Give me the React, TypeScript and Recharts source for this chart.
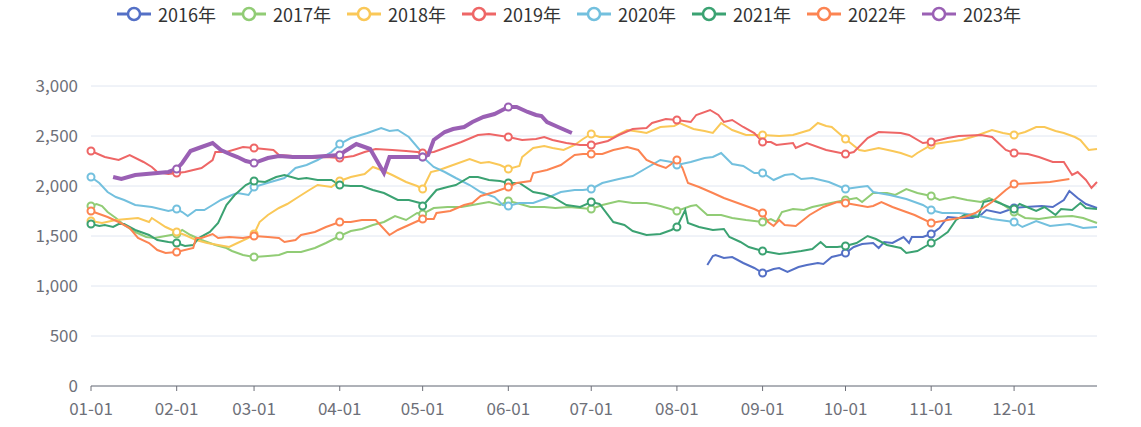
import React from 'react';
import { LineChart, Line, XAxis, YAxis, CartesianGrid } from 'recharts';

// series names and colours (legend order)
const years = ['2016年', '2017年', '2018年', '2019年', '2020年', '2021年', '2022年', '2023年'];
const colors = ['#5470c6', '#91cc75', '#fac858', '#ee6666', '#73c0de', '#3ba272', '#fc8452', '#9a60b4'];

// x axis: day of year, ticks on the first of each month
const monthDays = [0, 31, 59, 90, 120, 151, 181, 212, 243, 273, 304, 334];
const monthLabels = ['01-01', '02-01', '03-01', '04-01', '05-01', '06-01', '07-01', '08-01', '09-01', '10-01', '11-01', '12-01'];
const yTicks = [0, 500, 1000, 1500, 2000, 2500, 3000];

// [day, value] pairs
const s2016: [number, number][] = [
  [223, 1210], [225, 1300], [226, 1310], [229, 1280], [232, 1290], [236, 1230], [240, 1180], [243, 1130],
  [247, 1170], [249, 1180], [252, 1140], [256, 1190], [259, 1210], [263, 1230], [265, 1220], [268, 1290],
  [271, 1310], [273, 1330], [276, 1390], [279, 1420], [283, 1430], [285, 1380], [287, 1440], [290, 1430],
  [294, 1490], [296, 1430], [297, 1490], [301, 1490], [304, 1520], [307, 1580], [310, 1690], [314, 1680],
  [319, 1680], [322, 1710], [324, 1760], [329, 1730], [334, 1780], [338, 1790], [344, 1800], [348, 1790],
  [352, 1860], [354, 1950], [357, 1880], [360, 1820], [364, 1780],
];
const s2017: [number, number][] = [
  [0, 1800], [2, 1820], [4, 1800], [6, 1740], [9, 1680], [12, 1610], [16, 1540], [20, 1490], [23, 1480],
  [27, 1500], [31, 1520], [33, 1560], [36, 1510], [40, 1460], [45, 1410], [49, 1380], [51, 1350], [55, 1310],
  [59, 1290], [64, 1300], [68, 1310], [71, 1340], [76, 1340], [81, 1380], [85, 1430], [90, 1500], [94, 1550],
  [98, 1570], [102, 1610], [106, 1640], [110, 1700], [114, 1660], [118, 1730], [120, 1720], [124, 1780],
  [129, 1790], [134, 1790], [138, 1810], [144, 1840], [148, 1810], [151, 1850], [154, 1830], [159, 1790],
  [164, 1790], [168, 1780], [173, 1790], [177, 1780], [181, 1770], [185, 1810], [191, 1850], [196, 1830],
  [201, 1830], [206, 1800], [212, 1750], [217, 1800], [219, 1810], [223, 1710], [228, 1710], [232, 1680],
  [237, 1660], [243, 1640], [246, 1670], [248, 1640], [250, 1740], [254, 1770], [258, 1760], [261, 1790],
  [266, 1820], [273, 1860], [277, 1880], [279, 1840], [283, 1930], [288, 1930], [291, 1910], [295, 1970],
  [299, 1930], [304, 1900], [307, 1860], [312, 1890], [317, 1860], [322, 1840], [325, 1880], [329, 1830],
  [334, 1740], [338, 1680], [343, 1670], [348, 1690], [355, 1700], [359, 1680], [364, 1630],
];
const s2018: [number, number][] = [
  [0, 1650], [4, 1630], [9, 1660], [13, 1670], [17, 1680], [21, 1640], [22, 1680], [27, 1590], [31, 1540],
  [34, 1510], [38, 1460], [42, 1430], [46, 1410], [50, 1390], [53, 1430], [57, 1480], [59, 1520], [61, 1640],
  [64, 1710], [68, 1780], [71, 1820], [75, 1890], [79, 1960], [82, 2010], [87, 1990], [90, 2050], [94, 2090],
  [99, 2120], [102, 2190], [105, 2160], [109, 2110], [114, 2040], [118, 2000], [120, 1970], [123, 2140],
  [126, 2160], [130, 2200], [137, 2270], [141, 2230], [144, 2240], [148, 2210], [151, 2170], [155, 2200],
  [156, 2290], [160, 2380], [164, 2400], [167, 2380], [171, 2360], [175, 2410], [178, 2470], [181, 2520],
  [184, 2490], [189, 2490], [194, 2560], [199, 2540], [201, 2530], [206, 2590], [211, 2600], [213, 2630],
  [218, 2570], [222, 2550], [225, 2530], [228, 2630], [232, 2560], [237, 2510], [243, 2510], [249, 2500],
  [254, 2510], [260, 2560], [263, 2630], [266, 2600], [268, 2590], [273, 2470], [278, 2360], [280, 2350],
  [285, 2380], [290, 2350], [293, 2330], [297, 2290], [299, 2330], [304, 2410], [305, 2420], [310, 2440],
  [315, 2460], [320, 2500], [326, 2560], [330, 2530], [334, 2510], [338, 2540], [342, 2590], [345, 2590],
  [349, 2550], [352, 2530], [356, 2490], [358, 2460], [361, 2360], [364, 2370],
];
const s2019: [number, number][] = [
  [0, 2350], [5, 2290], [10, 2260], [14, 2310], [19, 2240], [22, 2190], [24, 2140], [28, 2120], [31, 2130],
  [34, 2140], [40, 2180], [44, 2260], [45, 2340], [49, 2340], [55, 2390], [59, 2380], [66, 2360], [68, 2310],
  [73, 2300], [80, 2280], [85, 2290], [90, 2280], [95, 2300], [99, 2340], [103, 2370], [109, 2360],
  [114, 2350], [118, 2340], [120, 2330], [124, 2340], [129, 2390], [134, 2440], [140, 2510], [144, 2520],
  [151, 2490], [156, 2460], [161, 2470], [164, 2490], [167, 2460], [172, 2430], [177, 2410], [181, 2410],
  [187, 2450], [191, 2510], [196, 2570], [201, 2580], [203, 2630], [208, 2670], [212, 2660], [217, 2640],
  [219, 2710], [224, 2760], [227, 2710], [229, 2640], [232, 2660], [236, 2590], [240, 2530], [243, 2440],
  [246, 2440], [248, 2410], [254, 2430], [255, 2380], [259, 2430], [266, 2360], [273, 2320], [276, 2340],
  [281, 2480], [285, 2540], [293, 2530], [296, 2510], [301, 2430], [304, 2440], [310, 2480], [314, 2500],
  [322, 2510], [326, 2490], [331, 2360], [334, 2330], [339, 2320], [343, 2290], [348, 2240], [352, 2240],
  [355, 2110], [357, 2140], [360, 2060], [362, 1980], [364, 2040],
];
const s2020: [number, number][] = [
  [0, 2090], [3, 2030], [6, 1940], [9, 1890], [12, 1860], [16, 1810], [22, 1790], [28, 1750], [31, 1770],
  [33, 1740], [35, 1700], [38, 1760], [41, 1760], [44, 1810], [47, 1860], [51, 1910], [53, 1930], [57, 1910],
  [59, 1990], [65, 2040], [70, 2080], [74, 2180], [78, 2210], [82, 2260], [87, 2340], [90, 2420], [94, 2480],
  [100, 2530], [105, 2580], [108, 2550], [111, 2560], [115, 2490], [119, 2360], [120, 2290], [124, 2190],
  [128, 2140], [132, 2080], [137, 2010], [141, 1940], [146, 1890], [149, 1810], [151, 1800], [155, 1830],
  [160, 1830], [165, 1880], [170, 1940], [175, 1960], [178, 1960], [181, 1970], [185, 2030], [191, 2070],
  [196, 2100], [201, 2180], [206, 2260], [210, 2240], [212, 2210], [217, 2240], [222, 2280], [225, 2290],
  [228, 2330], [232, 2220], [236, 2200], [240, 2130], [243, 2130], [247, 2060], [251, 2110], [254, 2120],
  [257, 2070], [261, 2080], [267, 2040], [273, 1970], [278, 1990], [281, 2000], [283, 1940], [289, 1910],
  [295, 1870], [301, 1810], [304, 1760], [308, 1730], [314, 1730], [320, 1710], [326, 1670], [334, 1640],
  [337, 1590], [342, 1650], [347, 1600], [354, 1620], [359, 1580], [364, 1590],
];
const s2021: [number, number][] = [
  [0, 1620], [3, 1600], [5, 1610], [8, 1590], [10, 1620], [12, 1620], [16, 1560], [21, 1510], [24, 1460],
  [28, 1440], [31, 1430], [34, 1400], [37, 1410], [39, 1480], [43, 1540], [46, 1630], [49, 1810], [52, 1910],
  [56, 2010], [59, 2050], [63, 2040], [67, 2090], [70, 2110], [75, 2070], [78, 2080], [82, 2060], [87, 2060],
  [90, 2010], [94, 2000], [98, 2000], [102, 1960], [106, 1930], [111, 1860], [115, 1860], [119, 1830],
  [120, 1800], [125, 1960], [129, 1990], [132, 2010], [137, 2090], [140, 2090], [144, 2060], [148, 2050],
  [151, 2030], [155, 2030], [160, 1940], [164, 1920], [167, 1890], [172, 1810], [177, 1790], [181, 1840],
  [184, 1820], [189, 1640], [193, 1610], [196, 1550], [201, 1510], [206, 1520], [210, 1560], [212, 1590],
  [215, 1760], [216, 1630], [220, 1590], [225, 1560], [229, 1570], [231, 1490], [235, 1440], [238, 1390],
  [243, 1350], [249, 1320], [252, 1330], [257, 1350], [261, 1370], [264, 1440], [266, 1390], [270, 1390],
  [273, 1400], [277, 1430], [281, 1500], [284, 1470], [288, 1410], [293, 1380], [295, 1330], [299, 1350],
  [304, 1430], [307, 1480], [310, 1540], [313, 1660], [316, 1710], [321, 1690], [323, 1840], [326, 1860],
  [334, 1770], [336, 1820], [342, 1750], [345, 1790], [349, 1710], [351, 1770], [355, 1760], [358, 1830],
  [360, 1780], [364, 1770],
];
const s2022: [number, number][] = [
  [0, 1750], [3, 1720], [6, 1690], [10, 1640], [14, 1580], [17, 1480], [21, 1430], [24, 1360], [27, 1330],
  [31, 1340], [37, 1380], [38, 1480], [40, 1480], [44, 1520], [46, 1480], [50, 1490], [55, 1480], [59, 1500],
  [64, 1490], [68, 1480], [70, 1440], [74, 1460], [76, 1510], [81, 1540], [85, 1590], [90, 1640], [94, 1640],
  [98, 1660], [103, 1660], [108, 1510], [111, 1560], [115, 1610], [119, 1660], [120, 1670], [124, 1670],
  [125, 1730], [130, 1750], [135, 1810], [138, 1830], [141, 1900], [146, 1940], [151, 1990], [154, 2030],
  [159, 2050], [160, 2130], [165, 2160], [170, 2210], [175, 2310], [178, 2320], [181, 2320], [185, 2320],
  [189, 2360], [194, 2390], [198, 2360], [201, 2260], [205, 2210], [208, 2180], [212, 2260], [214, 2180],
  [216, 2030], [220, 1990], [225, 1930], [229, 1880], [235, 1820], [240, 1770], [243, 1730], [245, 1640],
  [247, 1600], [249, 1660], [251, 1610], [255, 1600], [260, 1710], [265, 1790], [270, 1840], [273, 1830],
  [281, 1790], [283, 1800], [286, 1840], [290, 1790], [293, 1760], [298, 1710], [304, 1630], [310, 1660],
  [316, 1690], [320, 1730], [326, 1840], [331, 1960], [334, 2020], [341, 2030], [347, 2040], [354, 2070],
];
const s2023: [number, number][] = [
  [8, 2090], [11, 2070], [16, 2110], [28, 2140], [31, 2170], [33, 2230], [36, 2350], [39, 2380], [44, 2430],
  [47, 2360], [51, 2310], [53, 2290], [56, 2250], [59, 2230], [64, 2280], [68, 2300], [73, 2290], [80, 2290],
  [85, 2300], [90, 2310], [92, 2350], [96, 2420], [101, 2370], [106, 2130], [108, 2290], [113, 2290],
  [120, 2290], [122, 2310], [124, 2460], [128, 2540], [131, 2570], [135, 2590], [138, 2640], [142, 2690],
  [146, 2720], [151, 2790], [154, 2790], [158, 2740], [161, 2710], [163, 2700], [165, 2640], [169, 2590],
  [174, 2530],
];

const seriesPoints = [s2016, s2017, s2018, s2019, s2020, s2021, s2022, s2023];

const FONT = '"Microsoft YaHei", "Noto Sans CJK SC", sans-serif';

const makeDot = (color: string) => (props: any) => {
  const { cx, cy, payload, index } = props;
  if (!monthDays.includes(payload.d)) return <g key={`n-${index}`} />;
  return <circle key={`c-${index}`} cx={cx} cy={cy} r={3.5} fill="#fff" stroke={color} strokeWidth={2} />;
};

function LegendRow() {
  return (
    <div style={{ position: 'absolute', left: 117, top: 3, display: 'flex', fontFamily: FONT }}>
      {years.map((y, i) => (
        <div key={y} style={{ width: 115, display: 'flex', alignItems: 'center', height: 22 }}>
          <svg width={34} height={16} style={{ marginRight: 7 }}>
            <line x1={0} y1={8} x2={34} y2={8} stroke={colors[i]} strokeWidth={3} />
            <circle cx={17} cy={8} r={6} fill="#fff" stroke={colors[i]} strokeWidth={2.5} />
          </svg>
          <span style={{ fontSize: 18, color: '#333' }}>{y}</span>
        </div>
      ))}
    </div>
  );
}

export default function App() {
  return (
    <div style={{ position: 'relative', width: 1141, height: 427, background: '#fff' }}>
      <style>{'body{margin:0}'}</style>
      <LegendRow />
      <LineChart width={1141} height={427} margin={{ top: 86, right: 44, bottom: 0, left: 0 }}>
        <CartesianGrid vertical={false} stroke="#e0e6f1" />
        <XAxis
          type="number"
          dataKey="d"
          domain={[0, 364]}
          ticks={monthDays}
          interval={0}
          tickFormatter={(v: number) => monthLabels[monthDays.indexOf(v)]}
          axisLine={{ stroke: '#6e7079' }}
          tickLine={{ stroke: '#6e7079' }}
          tickSize={5}
          tickMargin={12}
          height={41}
          tick={{ fill: '#6e7079', fontSize: 17, fontFamily: FONT }}
        />
        <YAxis
          type="number"
          domain={[0, 3000]}
          ticks={yTicks}
          width={91}
          axisLine={false}
          tickLine={false}
          tickMargin={7}
          tick={{ fill: '#6e7079', fontSize: 17, fontFamily: FONT }}
          tickFormatter={(v: number) => v.toLocaleString('en-US')}
        />
        {seriesPoints.map((pts, i) => (
          <Line
            key={years[i]}
            name={years[i]}
            data={pts.map(([d, v]) => ({ d, v }))}
            dataKey="v"
            type="linear"
            stroke={colors[i]}
            strokeWidth={i === 7 ? 4 : 2}
            dot={makeDot(colors[i])}
            activeDot={false}
            isAnimationActive={false}
          />
        ))}
      </LineChart>
    </div>
  );
}
